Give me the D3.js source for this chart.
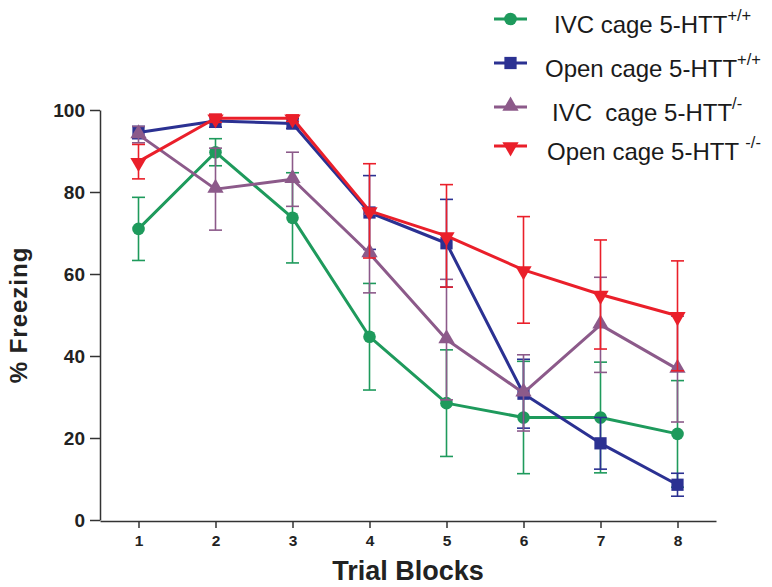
<!DOCTYPE html>
<html>
<head>
<meta charset="utf-8">
<script src="https://cdn.jsdelivr.net/npm/d3@7"></script>
<style>
  html, body { margin: 0; padding: 0; background: #fff; }
  svg text { font-family: "Liberation Sans", Arial, sans-serif; }
</style>
</head>
<body>
<svg id="chart" width="772" height="587"></svg>
<script>
// ---- data ----
const blocks = [1, 2, 3, 4, 5, 6, 7, 8];
const yTicks = [0, 20, 40, 60, 80, 100];

const ivcWT      = [71.0, 89.7, 73.7, 44.7, 28.5, 25.0, 25.0, 21.0];
const ivcWTErr   = [7.7, 3.3, 11.0, 13.0, 13.0, 13.7, 13.5, 13.0];
const openWT     = [94.5, 97.3, 96.7, 75.0, 67.5, 30.8, 18.7, 8.6];
const openWTErr  = [1.5, 1.5, 1.2, 9.0, 10.7, 8.4, 6.3, 2.8];
const ivcKO      = [94.0, 80.7, 83.1, 65.0, 44.0, 31.0, 47.6, 36.8];
const ivcKOErr   = [2.0, 10.0, 6.6, 9.6, 14.7, 9.3, 11.6, 12.9];
const openKO     = [87.4, 98.0, 98.0, 75.4, 69.3, 61.0, 55.0, 49.8];
const openKOErr  = [4.2, 1.0, 0.8, 11.5, 12.5, 13.0, 13.3, 13.4];

const seriesNames = ["IVC cage 5-HTT", "Open cage 5-HTT", "IVC  cage 5-HTT", "Open cage 5-HTT "];
const seriesSups  = ["+/+", "+/+", "/-", "-/-"];

// ---- build ----
const series = [
  {name: seriesNames[0], sup: seriesSups[0], values: ivcWT,  err: ivcWTErr,  color: "#1e9a5c", shape: "circle"},
  {name: seriesNames[1], sup: seriesSups[1], values: openWT, err: openWTErr, color: "#2b3192", shape: "square"},
  {name: seriesNames[2], sup: seriesSups[2], values: ivcKO,  err: ivcKOErr,  color: "#8c5a8a", shape: "triangle"},
  {name: seriesNames[3], sup: seriesSups[3], values: openKO, err: openKOErr, color: "#ea1f2a", shape: "triangleDown"}
];

const svg = d3.select("#chart");
const x = d3.scaleLinear().domain([0.5, 8.5]).range([100, 716]);
const y = d3.scaleLinear().domain([0, 100]).range([520, 110]);

const symbolGen = {
  circle: d3.symbol().type(d3.symbolCircle).size(125),
  square: d3.symbol().type(d3.symbolSquare).size(150),
  triangle: d3.symbol().type(d3.symbolTriangle).size(115),
  triangleDown: d3.symbol().type(d3.symbolTriangle).size(115)
};
function markerTransform(shape, px, py) {
  if (shape === "triangle") return `translate(${px},${py - 1})`;
  if (shape === "triangleDown") return `translate(${px},${py + 1}) rotate(180)`;
  return `translate(${px},${py})`;
}

// axes
const yAxis = d3.axisLeft(y).tickValues(yTicks).tickSize(10).tickSizeOuter(0).tickPadding(5);
const gy = svg.append("g").attr("transform", "translate(100,0)").call(yAxis);
gy.selectAll("path, line").attr("stroke", "#333").attr("stroke-width", 1.5);
gy.selectAll("text").attr("font-size", 19).attr("font-weight", "bold").attr("fill", "#222")
  .attr("font-family", "Liberation Sans, Arial, sans-serif");

const xAxis = d3.axisBottom(x).tickValues(blocks).tickSize(7).tickSizeOuter(0).tickFormat(d3.format("d"));
const gx = svg.append("g").attr("transform", "translate(0,521)").call(xAxis);
gx.selectAll("path, line").attr("stroke", "#333").attr("stroke-width", 1.5);
gx.selectAll("text").attr("font-size", 15.5).attr("font-weight", "bold").attr("fill", "#222")
  .attr("font-family", "Liberation Sans, Arial, sans-serif")
  .attr("y", 25).attr("dy", 0);

// axis titles
svg.append("text")
  .attr("transform", "translate(27,315) rotate(-90)")
  .attr("text-anchor", "middle")
  .attr("font-size", 24).attr("font-weight", "bold").attr("fill", "#222")
  .attr("letter-spacing", 1)
  .text("% Freezing");
svg.append("text")
  .attr("x", 408).attr("y", 580)
  .attr("text-anchor", "middle")
  .attr("font-size", 27).attr("font-weight", "bold").attr("fill", "#222")
  .text("Trial Blocks");

// series
const line = d3.line().x((d, i) => x(blocks[i])).y(d => y(d));
const capW = 6.5;
series.forEach(s => {
  const g = svg.append("g");
  s.values.forEach((v, i) => {
    const px = x(blocks[i]);
    const top = y(v + s.err[i]), bot = y(v - s.err[i]);
    g.append("line").attr("x1", px).attr("x2", px).attr("y1", top).attr("y2", bot)
      .attr("stroke", s.color).attr("stroke-width", 1.6);
    [top, bot].forEach(yy => {
      g.append("line").attr("x1", px - capW).attr("x2", px + capW).attr("y1", yy).attr("y2", yy)
        .attr("stroke", s.color).attr("stroke-width", 1.6);
    });
  });
  g.append("path").datum(s.values).attr("d", line)
    .attr("fill", "none").attr("stroke", s.color).attr("stroke-width", 3).attr("stroke-linejoin", "round");
  g.selectAll(".m").data(s.values).enter().append("path")
    .attr("d", symbolGen[s.shape])
    .attr("transform", (d, i) => markerTransform(s.shape, x(blocks[i]), y(d)))
    .attr("fill", s.color);
});

// legend
const legY = [19, 63, 107, 146];
const legTextX = [554, 545, 552, 547];
const legBase = [33, 77, 121, 160];
series.forEach((s, i) => {
  const g = svg.append("g");
  g.append("line").attr("x1", 494).attr("x2", 527).attr("y1", legY[i]).attr("y2", legY[i])
    .attr("stroke", s.color).attr("stroke-width", 3);
  g.append("path").attr("d", symbolGen[s.shape])
    .attr("transform", markerTransform(s.shape, 510.5, legY[i])).attr("fill", s.color);
  const t = g.append("text").attr("x", legTextX[i]).attr("y", legBase[i])
    .attr("font-size", 24).attr("fill", "#1a1a1a").style("white-space", "pre");
  t.append("tspan").text(s.name);
  t.append("tspan").attr("font-size", 16.5).attr("dy", -12).text(s.sup);
});
</script>
</body>
</html>
